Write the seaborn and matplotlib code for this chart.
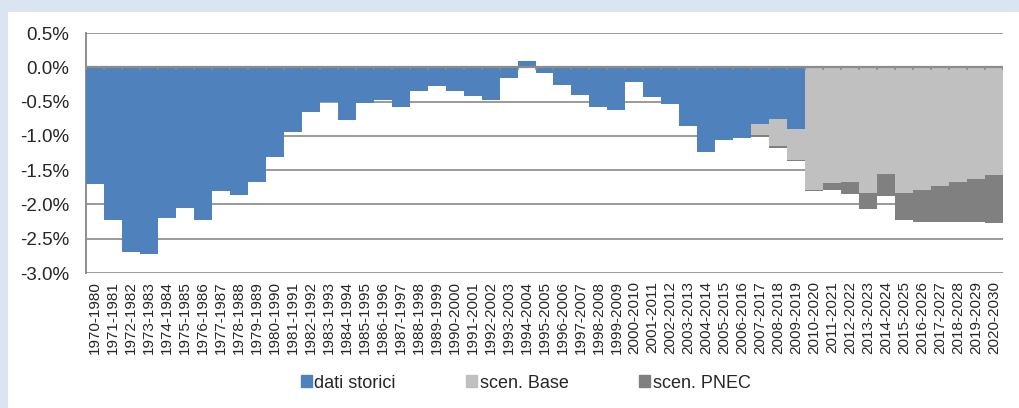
import matplotlib
matplotlib.use("Agg")
import matplotlib.pyplot as plt
import matplotlib.patches as mpatches
import numpy as np
import pandas as pd
import seaborn as sns

# -----------------------------
# Data (percent)
# -----------------------------
periods = [f"{y}-{y + 10}" for y in range(1970, 2021)]

storici = [-1.70, -2.22, -2.69, -2.73, -2.20, -2.05, -2.22, -1.81, -1.86, -1.67,
           -1.31, -0.94, -0.65, -0.51, -0.77, -0.52, -0.47, -0.58, -0.34, -0.28,
           -0.35, -0.42, -0.48, -0.155, 0.09, -0.09, -0.26, -0.41, -0.58, -0.63,
           -0.21, -0.44, -0.54, -0.86, -1.23, -1.06, -1.03, -0.83, -0.75, -0.90]
storici_periods = periods[:40]

base = [0.01, -0.99, -1.15, -1.35, -1.79, -1.69, -1.67, -1.83, -1.55, -1.84,
        -1.79, -1.73, -1.68, -1.63, -1.57]
base_periods = periods[36:]

pnec = [-1.01, -1.17, -1.37, -1.81, -1.79, -1.85, -2.07, -1.88, -2.23, -2.25,
        -2.25, -2.26, -2.26, -2.27]
pnec_periods = periods[37:]

labels = ["dati storici", "scen. Base", "scen. PNEC"]
colors = {"dati storici": "#4f81bd", "scen. Base": "#c0c0c0", "scen. PNEC": "#808080"}

# long table, drawn back to front: PNEC, Base, storici
df = pd.concat([
    pd.DataFrame({"periodo": pnec_periods, "valore": pnec, "serie": "scen. PNEC"}),
    pd.DataFrame({"periodo": base_periods, "valore": base, "serie": "scen. Base"}),
    pd.DataFrame({"periodo": storici_periods, "valore": storici, "serie": "dati storici"}),
], ignore_index=True)

# -----------------------------
# Plot
# -----------------------------
sns.set_style("white")
plt.rcParams["font.family"] = ["Liberation Sans", "DejaVu Sans"]

fig = plt.figure(figsize=(10.19, 4.08), dpi=100)
fig.patch.set_facecolor("#dbe5f1")
fig.patches.append(mpatches.Rectangle((8 / 1019, 0), 1, 1 - 12 / 408, transform=fig.transFigure,
                                      facecolor="white", edgecolor="none", zorder=-10))

ax = fig.add_axes([86 / 1019, 1 - 273 / 408, (1003 - 86) / 1019, (273 - 33) / 408])
ax.set_facecolor("none")

sns.barplot(data=df, x="periodo", y="valore", hue="serie", order=periods,
            hue_order=["scen. PNEC", "scen. Base", "dati storici"], palette=colors,
            saturation=1, dodge=False, width=1.0, errorbar=None, linewidth=0,
            legend=False, ax=ax, zorder=3)

ax.set_ylim(-3.0, 0.5)
ax.set_xlim(-0.5, len(periods) - 0.5)
yt = np.arange(-3.0, 0.51, 0.5)
ax.set_yticks(yt)
ax.set_yticklabels([f"{v:.1f}%" for v in yt], fontsize=13.5)
for v in yt:
    ax.axhline(v, color="#9a9a9a", lw=1.4, zorder=0)
ax.axhline(0, color="#8c8c8c", lw=1.6, zorder=4)

# tick marks on the zero line between categories
ax.vlines(np.arange(len(periods) + 1) - 0.5, -0.045, 0, color="#8c8c8c", lw=1.2, zorder=4)

ax.set_xticks(range(len(periods)))
ax.set_xticklabels(periods, rotation=90, fontsize=11)
ax.tick_params(axis="x", length=0, pad=6)
ax.tick_params(axis="y", length=0, pad=12)
ax.set_xlabel("")
ax.set_ylabel("")
for s in ["top", "right", "bottom"]:
    ax.spines[s].set_visible(False)
ax.spines["left"].set_color("#8c8c8c")
ax.spines["left"].set_linewidth(1.4)

handles = [mpatches.Patch(color=colors[l], label=l) for l in labels]
fig.legend(handles=handles, loc="center", bbox_to_anchor=(0.516, 1 - 383 / 408), ncol=3,
           frameon=False, fontsize=13, handlelength=0.6, handleheight=0.6,
           handletextpad=0.15, columnspacing=3.9)

fig.savefig("out.png", dpi=100, facecolor=fig.get_facecolor())
